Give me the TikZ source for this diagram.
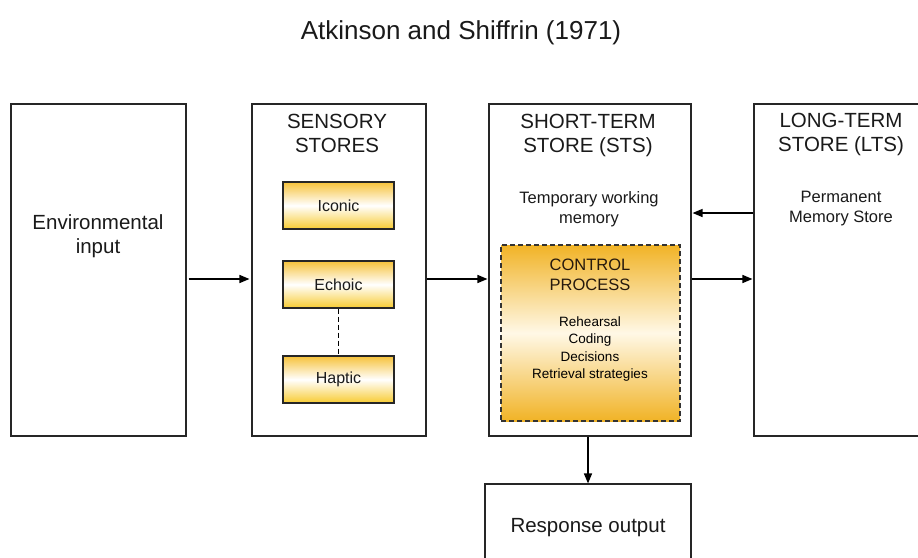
\documentclass[tikz,border=0pt]{standalone}
\usepackage{fontspec}
\setmainfont{Liberation Sans}
\usepackage{tikz}
\usetikzlibrary{calc,positioning,arrows}

\definecolor{storeorange}{HTML}{F6C23A}
\definecolor{ctrlorange}{HTML}{F1B326}
\definecolor{ctrlmid}{HTML}{FFF8E6}
\definecolor{txtgray}{HTML}{1A1A1A}

\tikzset{
    bigbox/.style={draw=black!85,line width=1.3pt,fill=white,inner sep=0pt},
    storebox/.style={draw=black!85,line width=1.3pt,minimum width=111pt,minimum height=47pt,
        top color=storeorange,bottom color=storeorange!85!yellow,middle color=white,
        font=\fontsize{16}{18}\selectfont,text=txtgray},
    headtxt/.style={align=center,font=\fontsize{20.5}{24}\selectfont,text=txtgray},
    subtxt/.style={align=center,font=\fontsize{16.5}{20}\selectfont,text=txtgray},
    flow/.style={->,line width=1.3pt},
}

\begin{document}
\begin{tikzpicture}[x=1pt,y=-1pt,>=triangle 45]
    \useasboundingbox (0,0) rectangle (918,557);
    \fill[white] (0,0) rectangle (918,557);
    %
    \node[font=\fontsize{26}{30}\selectfont,text=txtgray] (title) at (461,33) {Atkinson and Shiffrin (1971)};
    %
    \node[bigbox,minimum width=175pt,minimum height=332pt] (env) at (98.5,270) {};
    \node[bigbox,minimum width=174pt,minimum height=332pt] (sens) at (339,270) {};
    \node[bigbox,minimum width=202pt,minimum height=332pt] (sts) at (590,270) {};
    \node[bigbox,minimum width=190pt,minimum height=332pt] (lts) at (849,270) {};
    \node[bigbox,minimum width=206pt,minimum height=92pt] (resp) at (588,530) {};
    %
    \node[headtxt] (env_txt) at (98,236) {Environmental\\input};
    \node[headtxt] (sens_txt) at (337,133) {SENSORY\\STORES};
    \node[headtxt] (sts_txt) at (588,135) {SHORT-TERM\\STORE (STS)};
    \node[subtxt] (sts_sub) at (589,209) {Temporary working\\memory};
    \node[headtxt] (lts_txt) at (841,134) {LONG-TERM\\STORE (LTS)};
    \node[subtxt] (lts_sub) at (841,209) {Permanent\\Memory Store};
    \node[headtxt] (resp_txt) at (588,528) {Response output};
    %
    \node[storebox] (iconic) at (338.5,205.5) {Iconic};
    \node[storebox] (echoic) at (338.5,284.5) {Echoic};
    \node[storebox] (haptic) at (338.5,379.5) {Haptic};
    \draw[line width=1.3pt,dash pattern=on 5pt off 3pt] (echoic) -- (haptic);
    %
    \node[draw=black!80,dash pattern=on 5pt off 3pt,line width=1.3pt,minimum width=179pt,minimum height=176pt,
        top color=ctrlorange,bottom color=ctrlorange,middle color=ctrlmid] (ctrl) at (590.5,333) {};
    \node[align=center,font=\fontsize{16.5}{20}\selectfont,text=black!80!brown] (ctrl_txt) at (590,275) {CONTROL\\PROCESS};
    \node[align=center,font=\fontsize{13.5}{17.3}\selectfont,text=black] (ctrl_list) at (590,349)
        {Rehearsal\\Coding\\Decisions\\Retrieval strategies};
    %
    \draw[flow] ($(env.east)+(2,9)$) -- ($(sens.west)+(-2,9)$);
    \draw[flow] ($(sens.east)+(0,9)$) -- ($(sts.west)+(-1,9)$);
    \draw[flow] ($(sts.east)+(0,9)$) -- ($(lts.west)+(-1,9)$);
    \draw[flow] ($(lts.west)+(0,-57)$) -- ($(sts.east)+(1,-57)$);
    \draw[flow] (sts.south -| resp) -- (resp.north);
\end{tikzpicture}
\end{document}
